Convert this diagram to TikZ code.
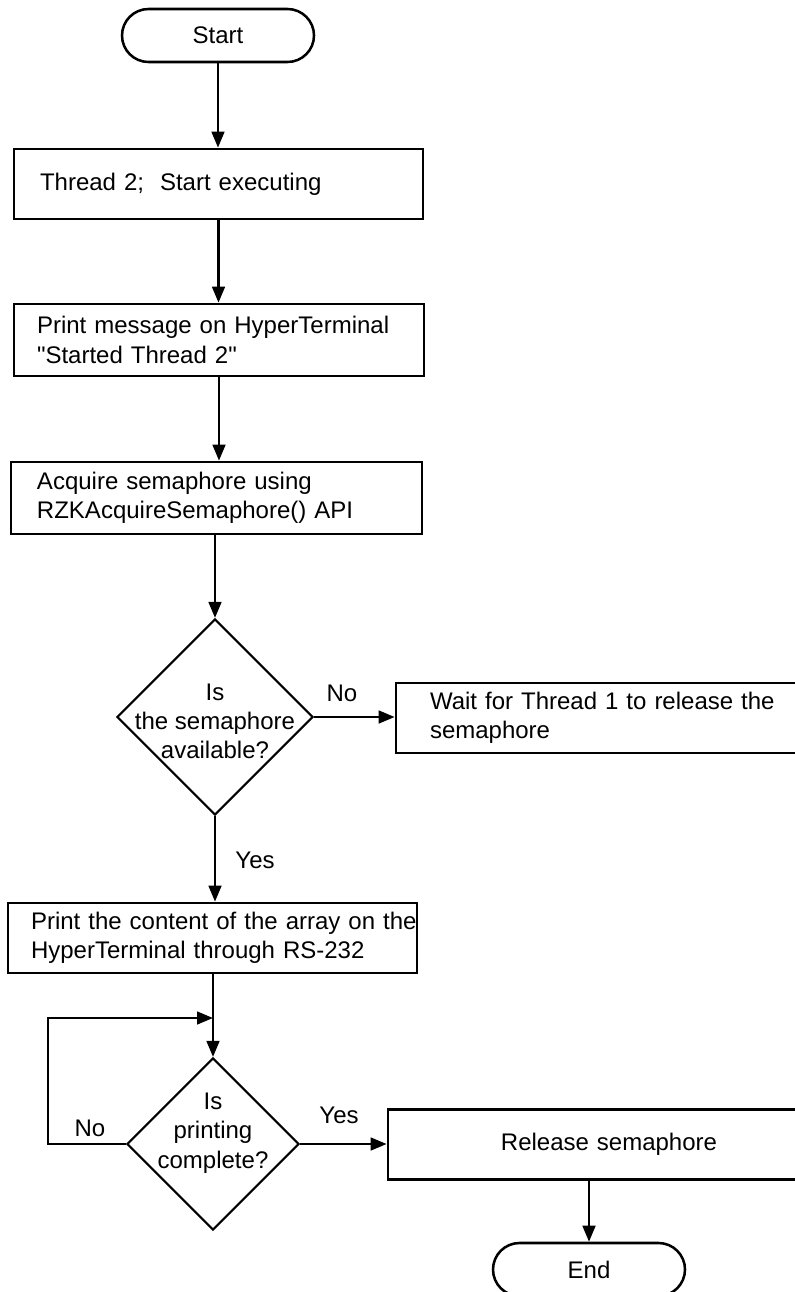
\documentclass[tikz,border=0pt]{standalone}
\usepackage{fontspec}
\setmainfont{Liberation Sans}
\usepackage{tikz}
\usetikzlibrary{arrows.meta,positioning,shapes.geometric,shapes.misc}
\newcommand{\fcfont}{\fontsize{18}{22}\selectfont}
\tikzset{
  term/.style={draw, rounded rectangle, line width=1.9pt, minimum width=144pt, minimum height=39.75pt, inner sep=0pt, font=\fcfont},
  proc/.style={draw, rectangle, line width=2pt, inner xsep=0pt, inner ysep=0pt, minimum height=52.5pt, align=left, font=\fcfont},
  lpad/.style={execute at begin node={\leftskip=#1}},
  dec/.style={draw, diamond, aspect=1, line width=1.6pt, inner sep=-14pt, align=center, font=\fcfont},
  ar/.style={-{Triangle[length=12pt,width=9.5pt]}, line width=1.9pt},
  lbl/.style={font=\fcfont, inner sep=0pt},
}
\begin{document}
\begin{tikzpicture}[x=0.75pt,y=-0.75pt]
    \useasboundingbox (0,0) rectangle (795,1292);
    \clip (0,0) rectangle (795,1292);

    % main column
    \node[term] (start) at (218,35.5) {Start};
    \node[proc, lpad=19.5pt, text width=306.75pt] (thr) at (218.5,184) {Thread 2;\ \ Start executing};
    \node[proc, lpad=17.25pt, text width=307.5pt, minimum height=54pt] (msg) at (219,340) {Print message on HyperTerminal\\\textquotedbl Started Thread 2\textquotedbl};
    \node[proc, lpad=19.5pt, text width=308.25pt, minimum height=54pt] (acq) at (216.5,498) {Acquire semaphore using\\RZKAcquireSemaphore() API};
    \node[dec, minimum size=147pt] (avail) at (215,717) {\rule{0pt}{19pt}Is\\the semaphore\\available?};
    \node[proc, lpad=25.5pt, text width=325.5pt] (wait) at (613,718) {Wait for Thread 1 to release the\\semaphore};
    \node[proc, lpad=17.25pt, text width=306.75pt] (prt) at (212.5,938) {Print the content of the array on the\\HyperTerminal through RS-232};
    \node[dec, minimum size=129pt] (done) at (213,1144) {Is\\printing\\complete?\rule[-20pt]{0pt}{0pt}};
    \node[proc, align=center, text width=331.5pt] (rel) at (609,1144.5) {Release semaphore};
    \node[term] (stop) at (589,1269.5) {End};

    % labels
    \node[lbl] (no1) at (342,693) {No};
    \node[lbl] (yes1) at (255,860) {Yes};
    \node[lbl] (no2) at (90,1128) {No};
    \node[lbl] (yes2) at (339,1115) {Yes};

    % connectors
    \draw[ar] (start.south) -- (start.south |- thr.north);
    \draw[ar] (thr.south) -- (thr.south |- msg.north);
    \draw[ar] (msg.south) -- (msg.south |- acq.north);
    \draw[ar] (avail.north |- acq.south) -- (avail.north);
    \draw[ar] (avail.east) -- (avail.east -| wait.west);
    \draw[ar] (avail.south) -- (avail.south |- prt.north);
    \draw[ar] (done.north |- prt.south) -- (done.north);
    \coordinate (loopc) at (48,1018);
    \draw[ar] (done.west) -| (loopc) -- (done.north |- loopc);
    \draw[ar] (done.east) -- (done.east -| rel.west);
    \draw[ar] (stop.north |- rel.south) -- (stop.north);
  \end{tikzpicture}
\end{document}
